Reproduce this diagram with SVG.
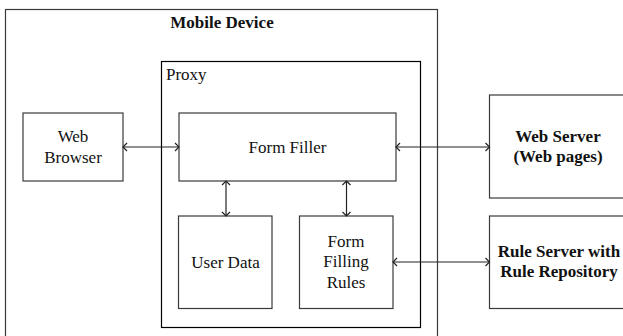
<svg xmlns="http://www.w3.org/2000/svg" width="623" height="336" viewBox="0 0 623 336">
<defs>
<style>
.box{fill:none;stroke:#3a3a3a;stroke-width:1.2}
.proxy{fill:none;stroke:#000;stroke-width:1.2}
.t{font-family:"Liberation Serif","Times New Roman",serif;font-size:17px;fill:#111;text-anchor:middle}
.b{font-weight:bold}
.c{stroke:#222;stroke-width:1.2;fill:none;marker-start:url(#ah);marker-end:url(#ah)}
</style>
<marker id="ah" viewBox="0 0 10 10" refX="9" refY="5" markerWidth="10" markerHeight="10" markerUnits="userSpaceOnUse" orient="auto-start-reverse">
<polyline points="5,1 9,5 5,9" fill="none" stroke="#222" stroke-width="1.2"/>
</marker>
</defs>
<rect width="623" height="336" fill="#fff"/>
<g id="mobile-device">
<rect class="box" x="5.5" y="9.5" width="432" height="340"/>
<text class="t b" x="222" y="28">Mobile Device</text>
</g>
<g id="proxy">
<rect class="proxy" x="161.5" y="61.5" width="259" height="266"/>
<text class="t" x="166" y="80" text-anchor="start" style="text-anchor:start">Proxy</text>
</g>
<g id="web-browser">
<rect class="box" x="23" y="113" width="100" height="68"/>
<text class="t" x="73" y="142">Web</text>
<text class="t" x="73" y="163">Browser</text>
</g>
<g id="form-filler">
<rect class="box" x="179" y="113" width="217" height="68"/>
<text class="t" x="287.5" y="153">Form Filler</text>
</g>
<g id="user-data">
<rect class="box" x="178.5" y="216" width="93.5" height="92.5"/>
<text class="t" x="225.5" y="268">User Data</text>
</g>
<g id="form-filling-rules">
<rect class="box" x="299.5" y="216" width="93.5" height="92.5"/>
<text class="t" x="346" y="247">Form</text>
<text class="t" x="346" y="267">Filling</text>
<text class="t" x="346" y="288">Rules</text>
</g>
<g id="web-server">
<rect class="box" x="489.5" y="95" width="140" height="103"/>
<text class="t b" x="558" y="142">Web Server</text>
<text class="t b" x="558" y="162">(Web pages)</text>
</g>
<g id="rule-server">
<rect class="box" x="489.5" y="216" width="140" height="92.5"/>
<text class="t b" x="559" y="257">Rule Server with</text>
<text class="t b" x="559" y="277">Rule Repository</text>
</g>
<g id="connectors">
<line class="c" x1="123" y1="147" x2="179" y2="147"/>
<line class="c" x1="396" y1="147" x2="489.5" y2="147"/>
<line class="c" x1="226" y1="181" x2="226" y2="216"/>
<line class="c" x1="346.5" y1="181" x2="346.5" y2="216"/>
<line class="c" x1="393" y1="262" x2="489.5" y2="262"/>
</g>
</svg>
